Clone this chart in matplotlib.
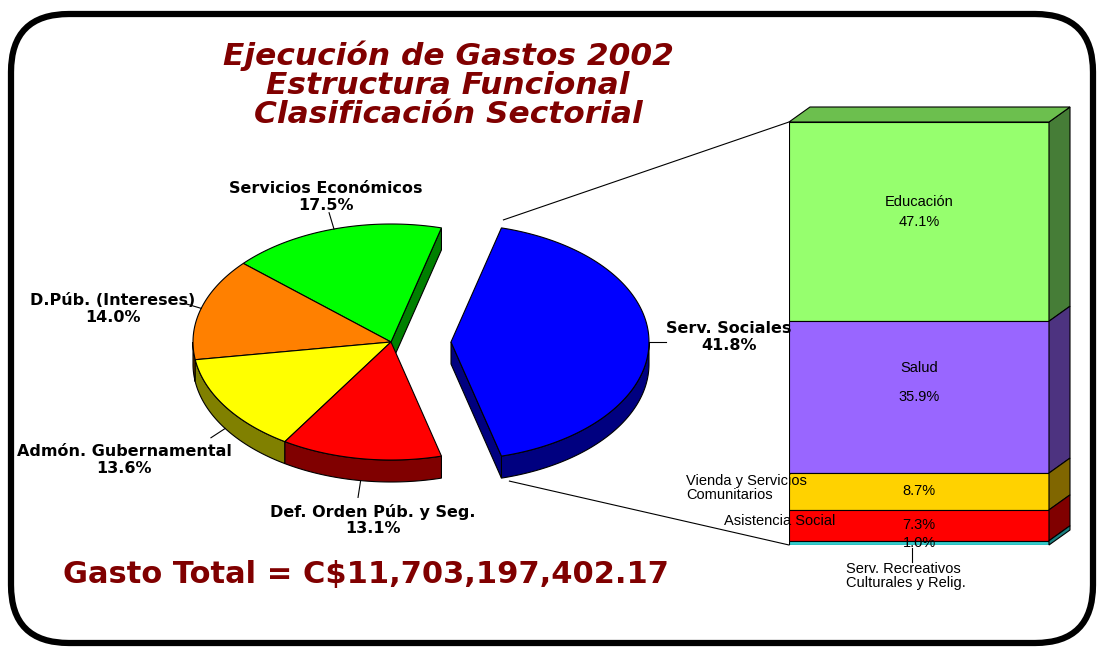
import numpy as np
import matplotlib
matplotlib.use('Agg')
import matplotlib.pyplot as plt
from matplotlib.patches import Polygon, FancyBboxPatch

W, H = 1097, 648

# pie: sector split of total spending
pie_labels = ['Serv. Sociales', 'Servicios Económicos', 'D.Púb. (Intereses)',
              'Admón. Gubernamental', 'Def. Orden Púb. y Seg.']
pie_vals = [41.8, 17.5, 14.0, 13.6, 13.1]
pie_colors = ['#0000FF', '#00FF00', '#FF8000', '#FFFF00', '#FF0000']
pie_sides = ['#000080', '#008000', '#804000', '#808000', '#800000']

# bar: breakdown of Serv. Sociales (top to bottom)
bar_labels = ['Educación', 'Salud', 'Vienda y Servicios\nComunitarios',
              'Asistencia Social', 'Serv. Recreativos\nCulturales y Relig.']
bar_vals = [47.1, 35.9, 8.7, 7.3, 1.0]
bar_colors = ['#96FF6E', '#9966FF', '#FFD200', '#FF0000', '#33CCCC']
bar_sides = ['#467D37', '#4D3380', '#806600', '#800000', '#1A7F7F']

title = 'Ejecución de Gastos 2002\nEstructura Funcional\nClasificación Sectorial'
total = 'Gasto Total = C$11,703,197,402.17'
dark_red = '#800000'

fig = plt.figure(figsize=(W / 100, H / 100), dpi=100)
ax = fig.add_axes([0, 0, 1, 1], zorder=2)
ax.set_xlim(0, W)
ax.set_ylim(H, 0)
ax.axis('off')

# frame
ax.add_patch(FancyBboxPatch((11, 14), 1082, 629, boxstyle='round,pad=0,rounding_size=58',
                            fill=False, ec='black', lw=4.5))

# ---- 3d pie ----
cx, cy, rx, ry, depth = 391, 342, 198, 118, 22
explode = [60, 0, 0, 0, 0]


def rim(theta, off, dz=0):
    t = np.radians(np.atleast_1d(theta))
    return np.column_stack([cx + off + rx * np.cos(t), cy - ry * np.sin(t) + dz])


start = -pie_vals[0] * 1.8
edges = start + np.concatenate([[0], np.cumsum(pie_vals)]) * 3.6
n = len(pie_vals)

for i in range(n):
    a1, a2, off = edges[i], edges[i + 1], explode[i]
    # outer wall, only the front half shows
    for lo, hi in [(-180, 0), (180, 360)]:
        s, e = max(a1, lo), min(a2, hi)
        if s < e:
            th = np.linspace(s, e, 80)
            pts = np.vstack([rim(th, off), rim(th[::-1], off, depth)])
            ax.add_patch(Polygon(pts, fc=pie_sides[i], ec='black', lw=0.8, zorder=1))
    # cut faces next to the exploded gap
    c = np.array([cx + off, cy])
    if explode[i - 1] != off and np.cos(np.radians(a1)) > 0:
        p = rim(a1, off)[0]
        ax.add_patch(Polygon([c, p, p + [0, depth], c + [0, depth]],
                             fc=pie_sides[i], ec='black', lw=0.8, zorder=1))
    if explode[(i + 1) % n] != off and np.cos(np.radians(a2)) < 0:
        p = rim(a2, off)[0]
        ax.add_patch(Polygon([c, p, p + [0, depth], c + [0, depth]],
                             fc=pie_sides[i], ec='black', lw=0.8, zorder=1))

for i in range(n):
    a1, a2, off = edges[i], edges[i + 1], explode[i]
    th = np.linspace(a1, a2, 120)
    pts = np.vstack([[cx + off, cy], rim(th, off)])
    ax.add_patch(Polygon(pts, fc=pie_colors[i], ec='black', lw=0.8, zorder=2))

# labels + leader lines
label_xy = [(729, 337), (326, 197), (113, 309), (124, 460), (373, 520)]
for i in range(n):
    mid = (edges[i] + edges[i + 1]) / 2
    s = np.sin(np.radians(mid))
    p = rim(mid, explode[i], depth if s < -0.01 else 0)[0]
    d = np.array([np.cos(np.radians(mid)), -s])
    q = p + 17 * d / np.linalg.norm(d)
    ax.plot([p[0], q[0]], [p[1], q[1]], color='black', lw=0.8, zorder=3)
    ax.text(*label_xy[i], f'{pie_labels[i]}\n{pie_vals[i]:.1f}%', ha='center', va='center',
            fontsize=11.5, fontweight='bold', family='DejaVu Sans', linespacing=1.12)

# ---- stacked 3d bar ----
bx0, by0, bw, bh = 789, 122, 260, 423
ax2 = fig.add_axes([bx0 / W, 1 - (by0 + bh) / H, bw / W, bh / H], zorder=1)
ax2.set_xlim(0, 1)
ax2.set_ylim(0, 100)
ax2.axis('off')

bottoms = np.array([sum(bar_vals[i + 1:]) for i in range(len(bar_vals))])
tops = bottoms + np.array(bar_vals)
ax2.bar([0.5] * len(bar_vals), bar_vals, bottom=bottoms, width=1,
        color=bar_colors, edgecolor='black', lw=0.8)
ddx, ddy = 21 / bw, 15 / bh * 100
for b, t, sc in zip(bottoms, tops, bar_sides):
    ax2.add_patch(Polygon([(1, b), (1 + ddx, b + ddy), (1 + ddx, t + ddy), (1, t)],
                          fc=sc, ec='black', lw=0.8, clip_on=False))
ax2.add_patch(Polygon([(0, tops[0]), (ddx, tops[0] + ddy), (1 + ddx, tops[0] + ddy), (1, tops[0])],
                      fc='#6CBF4E', ec='black', lw=0.8, clip_on=False))

bfont = dict(fontsize=10.5, family='Liberation Sans', ha='center', va='center')
for b, t, v in zip(bottoms, tops, bar_vals):
    ax2.text(0.5, (b + t) / 2, f'{v:.1f}%', **bfont)
ax2.annotate(bar_labels[0], (0.5, (bottoms[0] + tops[0]) / 2), xytext=(0, 14),
             textcoords='offset points', **bfont)
ax2.annotate(bar_labels[1], (0.5, (bottoms[1] + tops[1]) / 2), xytext=(0, 21),
             textcoords='offset points', **bfont)

# small segments labelled outside
sfont = dict(fontsize=10.5, family='Liberation Sans', ha='left', va='center', zorder=5)
ax.text(686, 488, bar_labels[2], linespacing=1.05, **sfont)
ax.text(724, 521, bar_labels[3], **sfont)
ax.text(846, 576, bar_labels[4], linespacing=1.05, **sfont)
ax.plot([912, 912], [548, 562], color='black', lw=0.8)

# connectors pie -> bar
p_top = rim(edges[1], explode[0])[0]
p_bot = rim(edges[0], explode[0], depth)[0]
ax.plot([p_top[0] + 2, bx0], [p_top[1] - 8, by0], color='black', lw=0.8)
ax.plot([p_bot[0] + 8, bx0], [p_bot[1] + 3, by0 + bh], color='black', lw=0.8)

# titles
ax.text(448, 85, title, ha='center', va='center', fontsize=22.5, fontweight='bold',
        style='italic', color=dark_red, family='DejaVu Sans', linespacing=1.0)
ax.text(366, 574, total, ha='center', va='center', fontsize=22, fontweight='bold',
        color=dark_red, family='DejaVu Sans')

fig.savefig('out.png', dpi=100)
